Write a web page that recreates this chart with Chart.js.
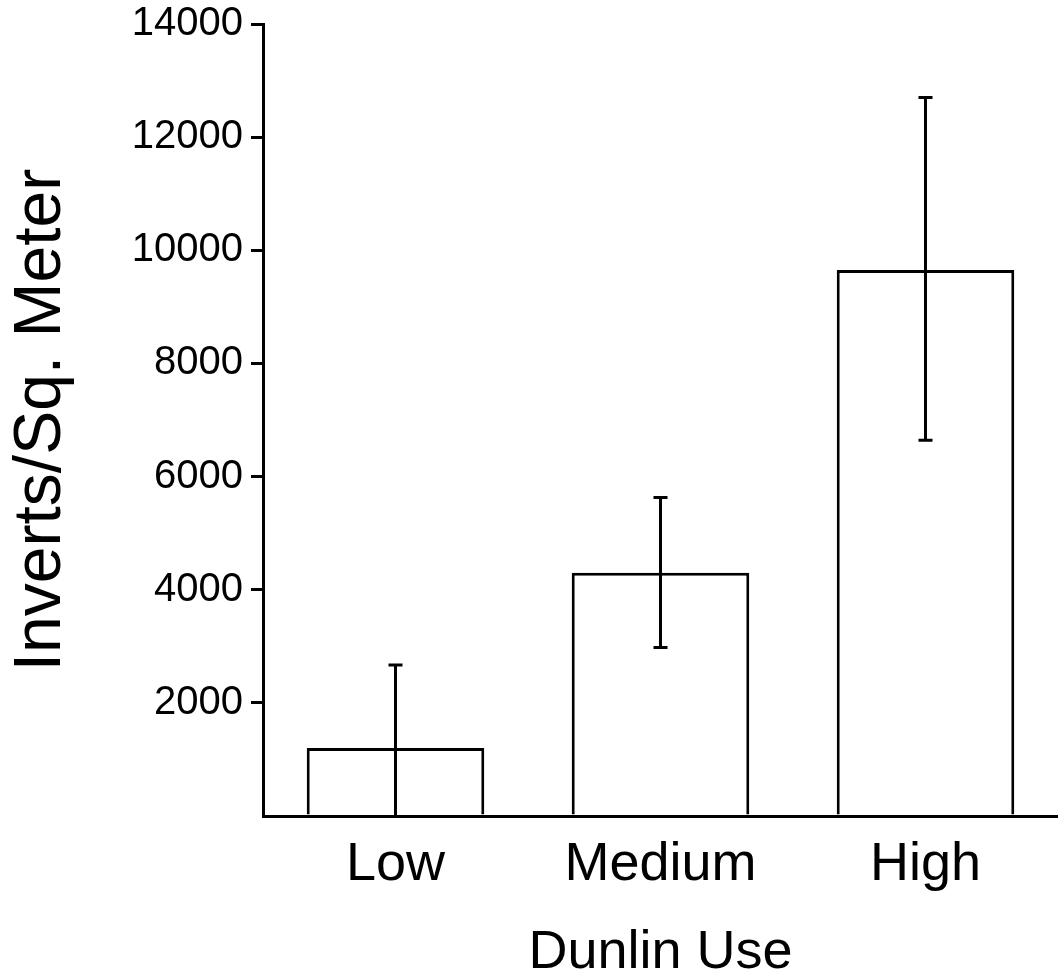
<!DOCTYPE html>
<html>
<head>
<meta charset="utf-8">
<script src="https://cdn.jsdelivr.net/npm/chart.js@4"></script>
<style>
    html, body { margin: 0; padding: 0; background: #fff; overflow: hidden; }
    #wrap { width: 1058px; height: 980px; }
</style>
</head>
<body>
<div id="wrap"><canvas id="barDunlin"></canvas></div>
<script>
var categories = ['Low', 'Medium', 'High']
var meanValues = [1200, 4300, 9650]
var errUpper = [2670, 5630, 12700]
var errLower = [0, 2980, 6640]
var yTicks = [0, 2000, 4000, 6000, 8000, 10000, 12000, 14000]

var fontName = '"Liberation Sans", Arial, sans-serif'

// error bars drawn on top of the bars
var errorBarPlugin = {
    id: 'errorBars',
    afterDatasetsDraw: (chart) => {
        var ctx = chart.ctx
        var yScale = chart.scales.y
        var meta = chart.getDatasetMeta(0)
        ctx.save()
        ctx.strokeStyle = '#000'
        ctx.lineWidth = 3
        meta.data.forEach((bar, i) => {
            var x = bar.x
            var yTop = yScale.getPixelForValue(errUpper[i])
            var yBot = yScale.getPixelForValue(errLower[i])
            ctx.beginPath()
            ctx.moveTo(x, yTop)
            ctx.lineTo(x, yBot)
            ctx.moveTo(x - 7, yTop)
            ctx.lineTo(x + 7, yTop)
            if (errLower[i] > 0) {
                ctx.moveTo(x - 7, yBot)
                ctx.lineTo(x + 7, yBot)
            }
            ctx.stroke()
        })
        ctx.restore()
    }
}

var ctxB = document.getElementById('barDunlin').getContext('2d')
var barChart = new Chart(ctxB, {
    type: 'bar',
    data: {
        labels: categories,
        datasets: [{
            data: meanValues,
            backgroundColor: '#fff',
            borderColor: '#000',
            borderWidth: 3,
            categoryPercentage: 1,
            barPercentage: 0.67
        }]
    },
    options: {
        responsive: true,
        maintainAspectRatio: false,
        animation: false,
        layout: { padding: { top: 24, right: 0, left: 0, bottom: 0 } },
        plugins: {
            legend: { display: false },
            tooltip: { enabled: false }
        },
        scales: {
            x: {
                grid: { display: false },
                border: { display: true, color: '#000', width: 3 },
                ticks: {
                    color: '#000',
                    padding: 9,
                    font: { family: fontName, size: 54 }
                },
                title: {
                    display: true,
                    text: 'Dunlin Use',
                    color: '#000',
                    padding: { top: 0, bottom: 0 },
                    font: { family: fontName, size: 54, lineHeight: 1.0 }
                },
                afterFit: (scale) => { scale.height = 164 }
            },
            y: {
                min: 0,
                max: 14000,
                afterBuildTicks: (scale) => {
                    scale.ticks = yTicks.map(v => ({ value: v }))
                },
                grid: {
                    drawOnChartArea: false,
                    drawTicks: true,
                    tickLength: 12,
                    lineWidth: 3,
                    color: (c) => (c.tick && c.tick.value === 0) ? 'rgba(0,0,0,0)' : '#000'
                },
                border: { display: true, color: '#000', width: 3 },
                ticks: {
                    color: '#000',
                    padding: 8,
                    font: { family: fontName, size: 40 },
                    callback: (v) => v === 0 ? '' : String(v)
                },
                title: {
                    display: true,
                    text: 'Inverts/Sq. Meter',
                    color: '#000',
                    padding: { top: 2, bottom: 0 },
                    font: { family: fontName, size: 66 }
                },
                afterFit: (scale) => {
                    scale.width = 263
                    scale.paddingTop = 0
                    scale.paddingBottom = 0
                }
            }
        }
    },
    plugins: [errorBarPlugin]
})
</script>
</body>
</html>
